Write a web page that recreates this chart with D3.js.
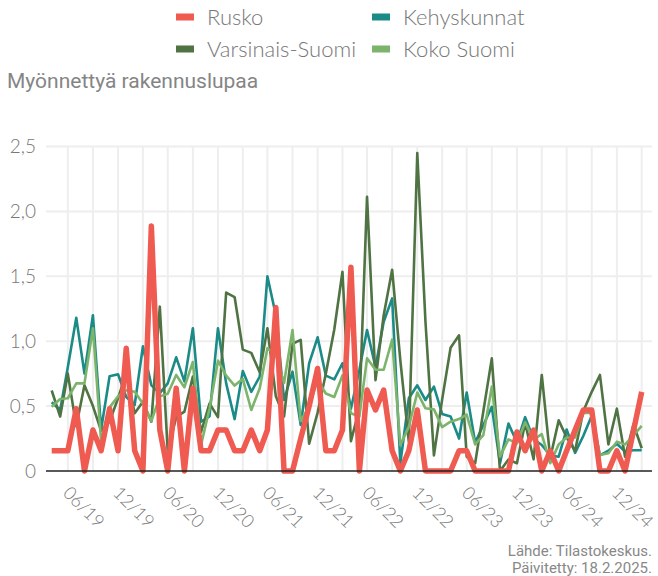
<!DOCTYPE html>
<html>
<head>
<meta charset="utf-8">
<script src="https://cdn.jsdelivr.net/npm/d3@7"></script>
<style>
  body { margin: 0; background: #fff; }
  svg { display: block; }
  text { font-family: Lato, "Open Sans", sans-serif; }
</style>
</head>
<body>
<div id="app"></div>
<script>
`use strict`;

// kuukaudet 1/2019 - 12/2024
const Months = d3.timeMonth.range(new Date(2019, 0, 1), new Date(2025, 0, 1));

const Rusko = [0.156, 0.156, 0.156, 0.48, 0, 0.316, 0.156, 0.48, 0.156, 0.945, 0.156, 0,
  1.887, 0.316, 0, 0.637, 0, 0.637, 0.156, 0.156, 0.316, 0.316, 0.156, 0.156,
  0.316, 0.156, 0.316, 1.26, 0, 0, 0.25, 0.5, 0.79, 0.156, 0.156, 0.316,
  1.57, 0, 0.624, 0.47, 0.624, 0.156, 0, 0.156, 0.47, 0, 0, 0,
  0, 0.156, 0.156, 0, 0, 0, 0, 0, 0.3, 0.156, 0.316, 0,
  0.156, 0, 0.156, 0.316, 0.47, 0.47, 0, 0, 0.156, 0, 0.31, 0.61];

const Kehyskunnat = [0.53, 0.47, 0.8, 1.18, 0.75, 1.2, 0.32, 0.73, 0.745, 0.57, 0.51, 0.96,
  0.66, 0.6, 0.675, 0.876, 0.69, 1.1, 0.38, 0.42, 1.1, 0.675, 0.4, 0.77,
  0.61, 0.727, 1.5, 1.2, 0.547, 0.765, 0.354, 0.83, 1.03, 0.735, 0.706, 0.83,
  0.48, 0.78, 1.086, 0.8, 1.15, 1.33, 0.06, 0.56, 0.66, 0.547, 0.65, 0.44,
  0.42, 0.25, 0.605, 0.22, 0.354, 0.495, 0.06, 0.365, 0.22, 0.415, 0.245, 0.2,
  0.12, 0.11, 0.32, 0.14, 0.27, 0.425, 0.12, 0.156, 0.21, 0.15, 0.16, 0.16];

const VarsinaisSuomi = [0.62, 0.42, 0.75, 0.345, 0.66, 0.5, 0.31, 0.38, 0.56, 0.755, 0.445, 0.534,
  0.38, 1.266, 0.15, 0.415, 0.457, 0.727, 0.3, 0.52, 0.415, 1.374, 1.34, 0.935,
  0.91, 0.76, 1.1, 0.575, 0.42, 0.98, 1.01, 0.21, 0.45, 0.75, 1.09, 1.535,
  0.23, 0.48, 2.113, 0.7, 1.2, 1.55, 0.85, 0.226, 2.45, 1.15, 0.12, 0.55,
  0.95, 1.045, 0.11, 0.06, 0.46, 0.868, 0, 0.088, 0.06, 0.37, 0.09, 0.74,
  0.1, 0.39, 0.26, 0.155, 0.46, 0.61, 0.74, 0.205, 0.48, 0.11, 0.36, 0.175];

const KokoSuomi = [0.495, 0.555, 0.56, 0.675, 0.675, 1.1, 0.228, 0.49, 0.575, 0.622, 0.61, 0.52,
  0.385, 0.575, 0.595, 0.74, 0.645, 0.84, 0.2, 0.48, 0.85, 0.735, 0.658, 0.71,
  0.47, 0.637, 0.945, 0.894, 0.678, 1.086, 0.385, 0.5, 0.7, 0.597, 0.57, 0.737,
  0.445, 0.42, 0.868, 0.78, 0.78, 1.012, 0.2, 0.34, 0.605, 0.483, 0.475, 0.338,
  0.38, 0.4, 0.435, 0.205, 0.277, 0.65, 0.11, 0.244, 0.213, 0.376, 0.242, 0.284,
  0.06, 0.205, 0.258, 0.258, 0.447, 0.45, 0.123, 0.136, 0.226, 0.205, 0.274, 0.347];

const SeriesNames = [`Rusko`, `Kehyskunnat`, `Varsinais-Suomi`, `Koko Suomi`];
const SeriesColors = [`#ef5a51`, `#1b8b88`, `#4f7343`, `#7db46b`];
const SeriesWidths = [5.5, 2.6, 2.6, 2.6];

const YTicks = [0, 0.5, 1, 1.5, 2, 2.5];

const W = 658, H = 576;

let Values = [Rusko, Kehyskunnat, VarsinaisSuomi, KokoSuomi];

let SVG = d3.select(`#app`).append(`svg`).attr(`width`, W).attr(`height`, H);

let x = d3.scaleTime().domain([Months[0], Months[Months.length - 1]]).range([51.7, 641.7]);
let y = d3.scaleLinear().domain([0, 2.5]).range([471, 146.5]);

let left = 46, right = 652;

// ruudukko
let Grid = SVG.append(`g`).attr(`stroke`, `#eeeeee`).attr(`stroke-width`, 2);

Grid.selectAll(`line.h`).data(YTicks.slice(1)).enter().append(`line`)
  .attr(`x1`, left).attr(`x2`, right)
  .attr(`y1`, S => {return y(S)}).attr(`y2`, S => {return y(S)});

let Quarter = Months.filter(S => {return S.getMonth() % 3 === 2});

Grid.selectAll(`line.v`).data(Quarter).enter().append(`line`)
  .attr(`x1`, S => {return x(S)}).attr(`x2`, S => {return x(S)})
  .attr(`y1`, y(2.5)).attr(`y2`, y(0));

// y-akseli
let comma = d3.format(`.1f`);

SVG.append(`g`).selectAll(`text`).data(YTicks).enter().append(`text`)
  .attr(`x`, 36).attr(`y`, S => {return y(S)})
  .attr(`dy`, `0.35em`)
  .attr(`text-anchor`, `end`)
  .attr(`font-size`, `19px`).attr(`font-weight`, 300)
  .attr(`fill`, `#777`)
  .text(S => {return S === 0 ? `0` : comma(S).replace(`.`, `,`)});

// x-akseli
let Half = Months.filter(S => {return S.getMonth() % 6 === 5});
let fmt = d3.timeFormat(`%m/%y`);

SVG.append(`g`).selectAll(`text`).data(Half).enter().append(`text`)
  .attr(`transform`, S => {return `translate(${x(S) - 31},494) rotate(45)`})
  .attr(`font-size`, `18px`).attr(`font-weight`, 300)
  .attr(`fill`, `#777`)
  .text(S => {return fmt(S)});

// viivat
let line = d3.line().x((S, i) => {return x(Months[i])}).y(S => {return y(S)});

let order = [1, 2, 3, 0];

SVG.append(`g`).selectAll(`path`).data(order).enter().append(`path`)
  .attr(`d`, S => {return line(Values[S])})
  .attr(`fill`, `none`)
  .attr(`stroke`, S => {return SeriesColors[S]})
  .attr(`stroke-width`, S => {return SeriesWidths[S]})
  .attr(`stroke-linejoin`, `round`);

SVG.append(`line`)
  .attr(`x1`, left).attr(`x2`, right)
  .attr(`y1`, y(0)).attr(`y2`, y(0))
  .attr(`stroke`, `#222`).attr(`stroke-width`, 1.5);

// selite
let Legend = SVG.append(`g`).selectAll(`g`).data(SeriesNames).enter().append(`g`)
  .attr(`transform`, (S, i) => {return `translate(${i % 2 ? 372 : 176},${i < 2 ? 17 : 49})`});

Legend.append(`rect`)
  .attr(`x`, 0).attr(`y`, -3.5).attr(`width`, 18).attr(`height`, 7)
  .attr(`fill`, (S, i) => {return SeriesColors[i]});

Legend.append(`text`)
  .attr(`x`, 31).attr(`y`, 0).attr(`dy`, `0.36em`)
  .attr(`font-size`, `22px`).attr(`font-weight`, 300)
  .attr(`fill`, `#777`)
  .text(S => {return S});

// otsikko ja lähde
SVG.append(`text`)
  .attr(`x`, 7).attr(`y`, 88)
  .style(`font-family`, `Roboto, sans-serif`)
  .attr(`font-size`, `21px`)
  .attr(`fill`, `#858585`)
  .text(`Myönnettyä rakennuslupaa`);

SVG.append(`g`).selectAll(`text`).data([`Lähde: Tilastokeskus.`, `Päivitetty: 18.2.2025.`]).enter().append(`text`)
  .attr(`x`, 652).attr(`y`, (S, i) => {return 556 + i * 17})
  .attr(`text-anchor`, `end`)
  .style(`font-family`, `Roboto, sans-serif`)
  .attr(`font-size`, `15px`)
  .attr(`fill`, `#888`)
  .text(S => {return S});
</script>
</body>
</html>
